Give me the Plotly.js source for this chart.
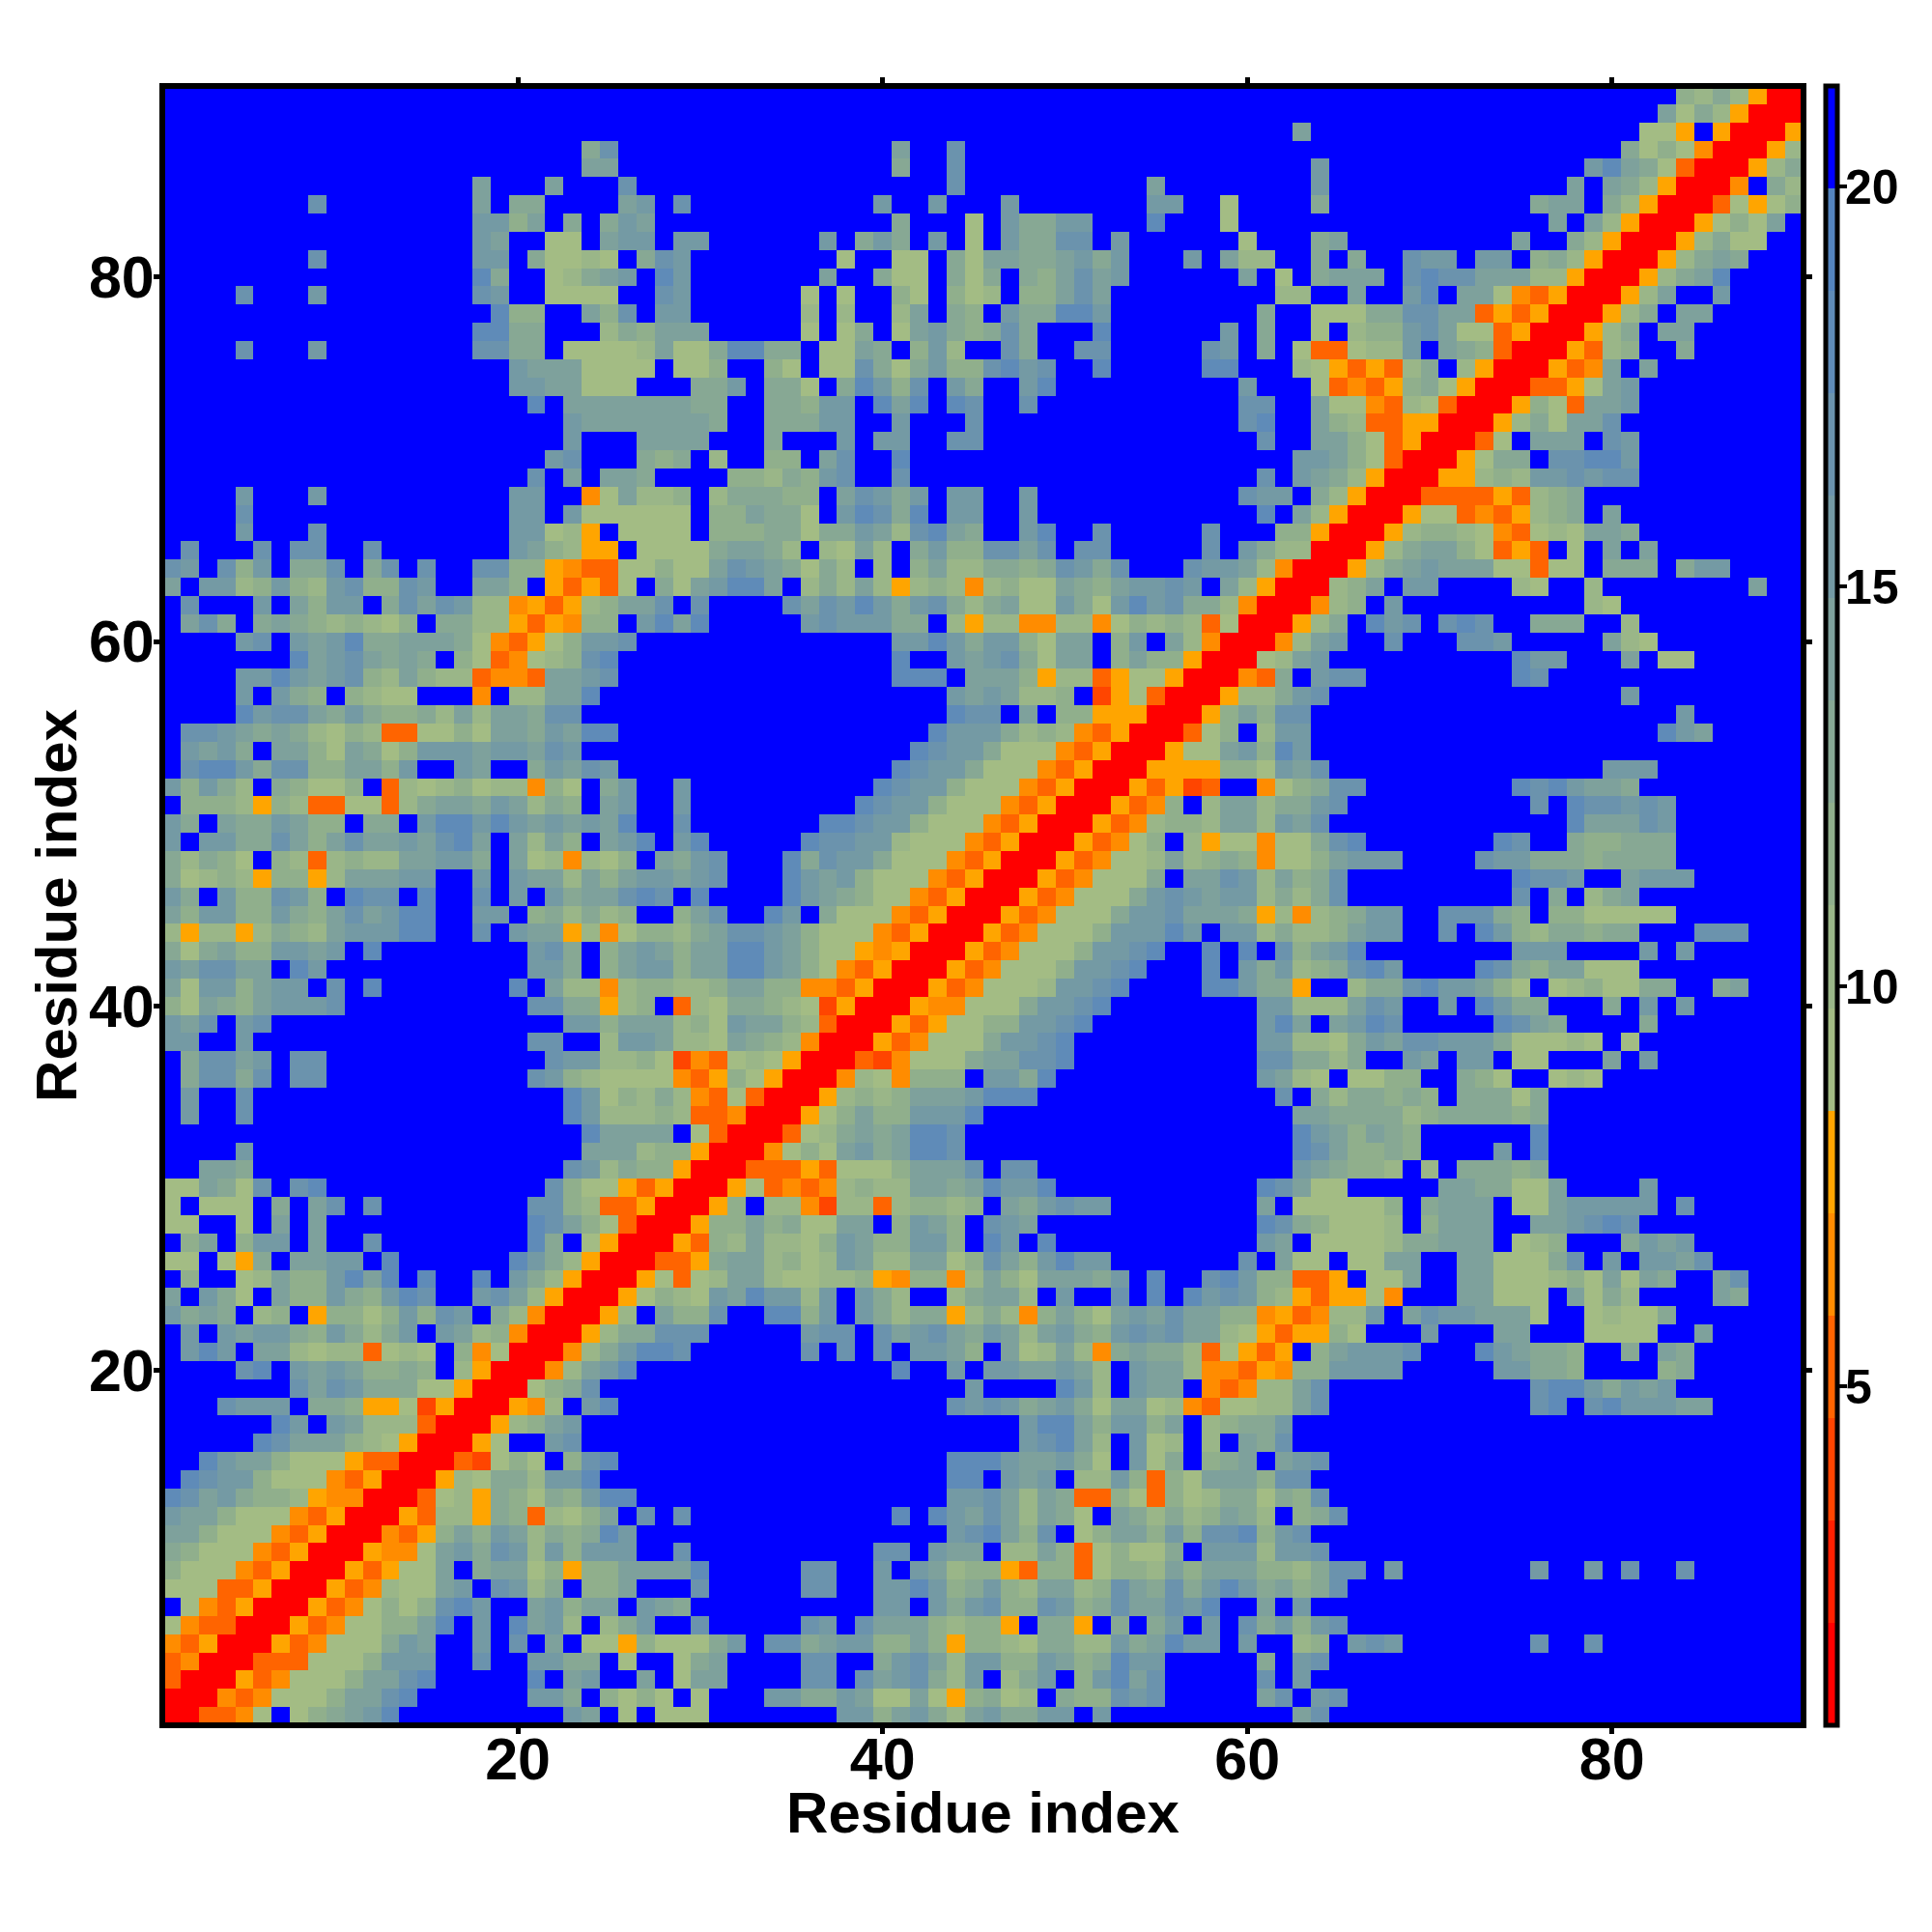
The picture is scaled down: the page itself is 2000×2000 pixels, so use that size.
<!DOCTYPE html>
<html><head><meta charset="utf-8">
<script src="https://cdn.plot.ly/plotly-3.0.1.min.js"></script>
<style>html,body{margin:0;padding:0;background:#fff}
.g-xtitle{transform:none}
.ytitle{translate:12px 0}
.cbaxis text{translate:-12px 0}
</style>
</head><body><div id="plot" style="width:2000px;height:2000px"></div>
<script>
// Each row: residue y, cells x = 1..y (the map is symmetric).
const rowsLow = [
"r","rr","orr","omrr","moyrr","amoorr",".amoyrr","aaaooyrr","caaamoyrr","dcaaamoyrr",
"eecaaamoyrr",
"feecaaamoyrr",
"hgefdccbymmrr",
".hgffcaaamoyrr",
"..hfeecaaayoorr",
".....hgeeecbayrr",
"......hf.febbborr",
"...gfff.ddcyyasyrr",
".......gegfdddaayrr",
"....gh.fefeccdc.byrr",
".fhf.eebabboaba.cmarr",
".f.feffdcfdbdf.febcmrr",
"fded.bc.yccacfcgf.dbmrr",
"e.fda.eccfdcfhg..fgebyrr",
".c..abeccfheh.h..h.fdbyrr",
"aa.ayd.eeff.h......hfdbyrr",
".ce.cff.e..g........hd.ayrr",
"aa..a.e.e...........hgecaorr",
"a.aaa.d.eg.g........ggcbooyrr",
"aaedag.gh............gcaayoyrr"
];
const rowsMid = [
"..eed..... .......... ..gfbdccyr r",
"....f..... .......... ...eeebccy rr",
".......... .......... ...heeee.a orr",
".f..g..... .......... ..hfbbbcbo omrr",
".f..g..... .......... ..hfacbdbm oaorr",
".dggdg.gg. .......... gfcbaaaamo ycayrr",
".dggef.gg. .......... .gffbbcasm oabayrr",
"ff..f..... .......... gg..bffebb aedcbmrr",
"feg.fg.... .......... ..ffceeebc afeecborr",
"caedcefffg .......... ggddybc.ob addcbasyrr",
"eaffceff.g .h.......h .ebbmbccbb ceeccmmoyrr",
"feggee.hf. .......... ffd.ceffce ehhfecamoyrr",
"dadeccffef .h........ fgd.cefece ehhfecaaymyrr",
"bybbybdcbe fffhh..g.f eeybmaccbd eggfecaaamoyrr",
"ecffccfdce gefhh..ff. cdbdbc..ce g..hf.daaamoyrr",
"fd.fccgfc. hgg.h..g.f .fdeeghg.h ....hfedcaamoyrr",
"dabcbyccyb eeeff..f.f eebeceffef g...hfefcaaamoyrr",
"dbdca.cbob cbbeeffd.e abmbac.edf g...hdgffdaaamoyrr",
"f.ffddgece geefeghe.e bec.efh.fh .....hggffbaaamoyrr",
"fd.eddfecc .dd.fhhfhf efefeh..g. ......hhgffcaaamoyrr",
".cccbycboo aaobdeedfe bdc.ef..f. ........hgffcaaamoyrr",
"fcfdb.dcaa c.obabcabb mca.df..f. .........hgffcaaamoyrr",
".ghhfdggcc eecf..fe.. dfegf..... ..........hgffdaaamoyrr",
".fefd.eeca edacfffeff egf....... ...........hgffdaaamoyrr",
".ggfededba cbooaacaee dfehh..... ............hfffdbcbmoyrr",
"....hfgged fdccdbebee dgg....... .............hgg.e.ccyyyrr",
"....f.fdc. cbaa...m.b beeh...... .............fefebbc.syaorr",
"....ffhfef gcbecbbomm oeefg..... ..........hhh.eeecybboyaayrr",
".......hef geded.caom abcgh..... ..........h..fefgdaee.ceccyrr",
"....fg.fef hddeeedamo yacffg.... ..........ffhfdffcaee.cf.ebmrr"
];
const rowsHigh = [
".egd.dedcb cbac.ddbby oymcc.fheh .....fgfff dd.bybbmmb bmacbcboar r",
".g...f.ecf f.dgegfbbm yoybceeg.g ....gegfhf dfgdbdeaaf dafhfgddbm rr",
"e.ffbcfcbf gccgf..eec .yoyoa.dae fhhe.bdbeb ybcbmbcaae dceffgf.eb yrr",
"gf.gcf.ddg .dg.g..ggc cymooaacaa egfedadb.b .cebbddcdg fdg...gffe bmrr",
".g...g.gg. .g.......f ecbyy.aaaa deedb.baeb .dfccggeg. gg.....g.f dbbrr",
"....f...g. .........f faby.aaaa. cccddaddfe bghed..fh. .g.....g.. .ccyrr",
"....g..... .........f f.faaaaaa. ccedda.fhg dh.ff..f.. .......... h.ebyrr",
"....f...f. .........f f..maebbc. bdddcc.egf df.ff..f.. .........g ff.dbyrr",
".......... .......... g.e.eed... .ccbdcfg.. g......... .......... g.fedbyrr",
".......... .......... .fg...dcd. b..cc.eg.. h......... .......... ..ffecaorr",
".......... .......... ..f...eeee ...d...f.f f..gg..... .......... g..eecaoyrr",
".......... .......... ..feeeeeee d..dddff.. f...g..... .........g h..ecbooyyrr",
".......... .......... h.eeeeeeed d..ddcff.h eh.hg..g.. .........g g..eaamobaorr",
".......... .........f feeaaa...d df.dda.dhf cg.fd..fh. .........f ...aomoycdayrr",
".......... .........f eeeaaaa.aa c..ca.aagd adfccghfg. .h.....hh. ..bayoyobd.byrr",
"....g...f. .......ggd d.aaaabeaa dhhdd.aaed .cfb..gd.. gg.....gf. d.aooabbf.edcorr",
".......... .......hhd d...bdceee .....a.ad. aefdcdgd.. .h......f. d..a.bccfgeaaoyrr",
".......... ........hc c..ecg.ff. .....b.b.. be.dc.fddh hf........ d..aaaddggeeoyoyrr",
"....g...f. .......gf. .aaaa..gf. .....a.a.. ca.cab.cce ge........ .bb..e..fh.eeamoyrr",
".......... .......hd. .abdef.hf. ......e..d aa.dad.dce gef......e .a.deee.ghggeeebbyrr",
"........g. .......ff. daaba.dgf. .......a.. aa.daeedde fdf...f.eb b..d.d..gff.ff.cdbyrr",
".......... .......fe. .aa.eff.ff ......f.df d.f.a.fddg g.f......a ...de..... ....e..dbyrr",
".......... .......ffc e.d.dfe... .......... d...a.fddf f...h...a. .......... ......e.ebyrr",
"........g. .......e.d d....ef.g. .........f ..f...f... ....ff..a. ...d...... .....dee.dbyrr",
".......... .......e.. .e...g.... .......... ...g...... ....e..... ...f...... .......e.edbyrr",
".......... .......... ...ee..... .......... d..g...... .......... ...f...... ........fhedaorr",
".......... .......... ...dg..... .......... e..g...... .......... .......... ..........dacamrr",
".......... .......... .......... .......... .......... .......... ..e....... .......... .aay.yrr",
".......... .......... .......... .......... .......... .......... .......... .......... ..eadbyrr",
".......... .......... .......... .......... .......... .......... .......... .......... ...cbdbyrr"
];
const letters = {r:1.4,s:3.96,o:5.24,m:6.5,y:7.8,a:9.1,b:10.4,c:11.7,d:12.95,e:14.2,f:15.5,g:16.8,h:18.1,'.':20.6};
const axisTicks = [20,40,60,80];
const barTicks = [5,10,15,20];
const bandColors = ['#FF0000','#FF2000','#FF4500','#FF6400','#FF8C00','#FFA500','#A3BC84','#9AB688','#90AF8C','#87A894','#7EA19C','#749AA4','#6B93AD','#5F8BB8','#5484BF','#0000FF'];
const zMin = 0.76, zMax = 21.26;

const clean = s => s.replace(/ /g,'');
const all = rowsLow.concat(rowsMid, rowsHigh).map(clean);
const lens = all.map((s,i)=> s.length-(i+1)).map((d,i)=> d? (i+1)+':'+d : '').filter(Boolean);
if (lens.length) throw new Error('row length mismatch '+lens.join(' '));
const n = 90, idx = [];
for (let i=1;i<=n;i++) idx.push(i);
const z = idx.map((y,i)=> idx.map((x,j)=> letters[ j<=i ? all[i][j] : all[j][i] ]));
const scale = [];
bandColors.forEach((c,i)=>{ scale.push([i/16,c]); scale.push([(i+1)/16,c]); });

const font = {family:'Liberation Sans, Arial, sans-serif',color:'#000',weight:700};
const ax = {range:[0.5,90.5],tickvals:axisTicks,ticks:'outside',ticklen:8,tickwidth:5,tickcolor:'#000',
  showline:false,mirror:'ticks',showgrid:false,zeroline:false,
  tickfont:Object.assign({size:61},font)};
Plotly.newPlot('plot',[{type:'heatmap',x:idx,y:idx,z:z,zmin:zMin,zmax:zMax,colorscale:scale,xgap:0,ygap:0,
  colorbar:{x:1.0133,xanchor:'left',xpad:0,y:0.5,yanchor:'middle',ypad:0,len:1,lenmode:'fraction',thickness:12,
    outlinewidth:5,outlinecolor:'#000',tickvals:barTicks,ticks:'outside',ticklen:8,tickwidth:4,tickcolor:'#000',
    borderwidth:0,tickfont:Object.assign({size:50},font)}}],
 {width:2000,height:2000,paper_bgcolor:'#fff',plot_bgcolor:'#fff',margin:{l:168,r:133,t:89,b:214,autoexpand:false},
  shapes:[{type:'rect',xref:'paper',yref:'paper',x0:0,x1:1,y0:0,y1:1,layer:'above',fillcolor:'rgba(0,0,0,0)',line:{color:'#000',width:6}}],
  xaxis:Object.assign({},ax,{ticklabelstandoff:-26,title:{text:'Residue index',font:Object.assign({size:60},font),standoff:0}}),
  yaxis:Object.assign({},ax,{ticklabelstandoff:-13,title:{text:'Residue index',font:Object.assign({size:60},font),standoff:0}})},
 {displayModeBar:false});
</script></body></html>
